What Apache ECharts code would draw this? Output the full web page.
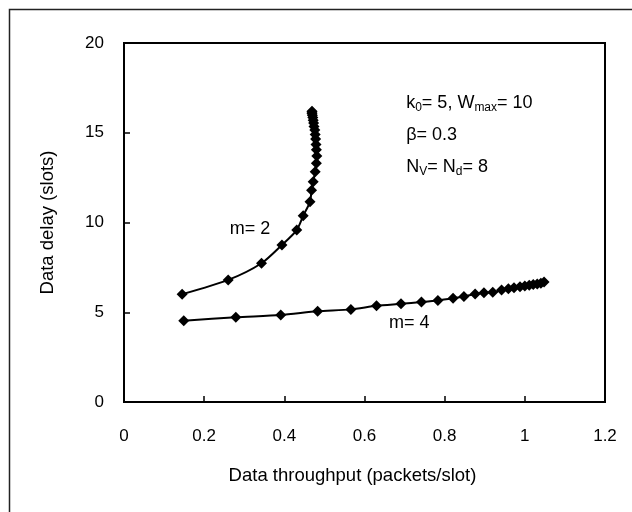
<!DOCTYPE html>
<html>
<head>
<meta charset="utf-8">
<script src="https://cdn.jsdelivr.net/npm/echarts@6/dist/echarts.min.js"></script>
<style>html,body{margin:0;padding:0;background:#fff}#c{width:632px;height:512px}</style>
</head>
<body>
<div id="c"></div>
<script>
// m = 2 curve: [throughput, delay]
var m2Throughput = [0.145,0.26,0.343,0.394,0.431,0.447,0.464,0.468,0.472,0.477,0.480,0.481,0.480,0.479,0.478,0.477,0.476,0.474,0.473,0.472,0.471,0.470,0.469,0.469,0.469];
var m2Delay      = [6.0,6.8,7.73,8.75,9.58,10.37,11.15,11.8,12.27,12.83,13.3,13.7,14.05,14.35,14.65,14.9,15.15,15.35,15.55,15.7,15.85,15.97,16.07,16.15,16.2];
// m = 4 curve
var m4Throughput = [0.149,0.279,0.391,0.483,0.566,0.630,0.691,0.742,0.783,0.821,0.848,0.876,0.898,0.920,0.942,0.959,0.973,0.988,1.000,1.011,1.021,1.031,1.040,1.048];
var m4Delay      = [4.53,4.72,4.85,5.05,5.16,5.36,5.47,5.57,5.66,5.78,5.88,6.02,6.09,6.11,6.24,6.31,6.37,6.42,6.46,6.50,6.54,6.57,6.61,6.69];
var xTicks = [0,0.2,0.4,0.6,0.8,1,1.2];
var yTicks = [0,5,10,15,20];
var curveNames = ['m= 2','m= 4'];
// annotation anchors in data space
var curveLabelAnchors = [[0.264,9.64],[0.661,4.4]];
var paramAnchor = [0.704,17.55];

function zip(a,b){return a.map(function(v,i){return [v,b[i]];});}

var chart = echarts.init(document.getElementById('c'), null, {renderer:'canvas'});
var FONT = '"Liberation Sans", Arial, sans-serif';
var lineSeries = function(name, data){
  return {
    name:name, type:'line', data:data, smooth:0.25,
    symbol:'diamond', symbolSize:11,
    itemStyle:{color:'#000'}, lineStyle:{color:'#000',width:2},
    animation:false, z:3
  };
};
chart.setOption({
  animation:false,
  grid:{left:124,top:43,right:27,bottom:110,show:true,borderColor:'#000',borderWidth:2,backgroundColor:'transparent'},
  xAxis:{type:'value',min:xTicks[0],max:xTicks[xTicks.length-1],interval:0.2,
    name:'Data throughput (packets/slot)',nameLocation:'middle',nameGap:64,
    nameTextStyle:{fontFamily:FONT,fontSize:18.5,color:'#000',padding:[0,24,0,0]},
    axisLine:{lineStyle:{color:'#000',width:2}},
    axisTick:{inside:true,length:6,lineStyle:{color:'#000',width:1.5}},
    axisLabel:{margin:26,fontFamily:FONT,fontSize:17,color:'#000'},
    splitLine:{show:false}},
  yAxis:{type:'value',min:yTicks[0],max:yTicks[yTicks.length-1],interval:5,
    name:'Data delay (slots)',nameLocation:'middle',nameGap:67,nameRotate:90,
    nameTextStyle:{fontFamily:FONT,fontSize:18.5,color:'#000'},
    axisLine:{lineStyle:{color:'#000',width:2}},
    axisTick:{inside:true,length:6,lineStyle:{color:'#000',width:1.5}},
    axisLabel:{margin:20,fontFamily:FONT,fontSize:17,color:'#000'},
    splitLine:{show:false}},
  series:[lineSeries(curveNames[0],zip(m2Throughput,m2Delay)), lineSeries(curveNames[1],zip(m4Throughput,m4Delay))]
});

var p0 = chart.convertToPixel({gridIndex:0}, curveLabelAnchors[0]);
var p1 = chart.convertToPixel({gridIndex:0}, curveLabelAnchors[1]);
var pp = chart.convertToPixel({gridIndex:0}, paramAnchor);
var rich = {
  n:{fontFamily:FONT,fontSize:18,color:'#000',lineHeight:32},
  s:{fontFamily:FONT,fontSize:12,color:'#000',lineHeight:32,padding:[10,0,0,0]}
};
chart.setOption({
  graphic:[
    {type:'rect',shape:{x:9.5,y:9.5,width:700,height:600},style:{fill:'none',stroke:'#222',lineWidth:1.5},silent:true,z:0},
    {type:'text',x:p0[0],y:p0[1],style:{text:curveNames[0],font:'18px '+FONT,fill:'#000',textVerticalAlign:'middle'}},
    {type:'text',x:p1[0],y:p1[1],style:{text:curveNames[1],font:'18px '+FONT,fill:'#000',textVerticalAlign:'middle'}},
    {type:'text',x:pp[0],y:pp[1],style:{
      text:'{n|k}{s|0}{n|= 5, W}{s|max}{n|= 10}\n{n|β= 0.3}\n{n|N}{s|V}{n|= N}{s|d}{n|= 8}',
      rich:rich,textVerticalAlign:'top'}}
  ]
});
</script>
</body>
</html>
